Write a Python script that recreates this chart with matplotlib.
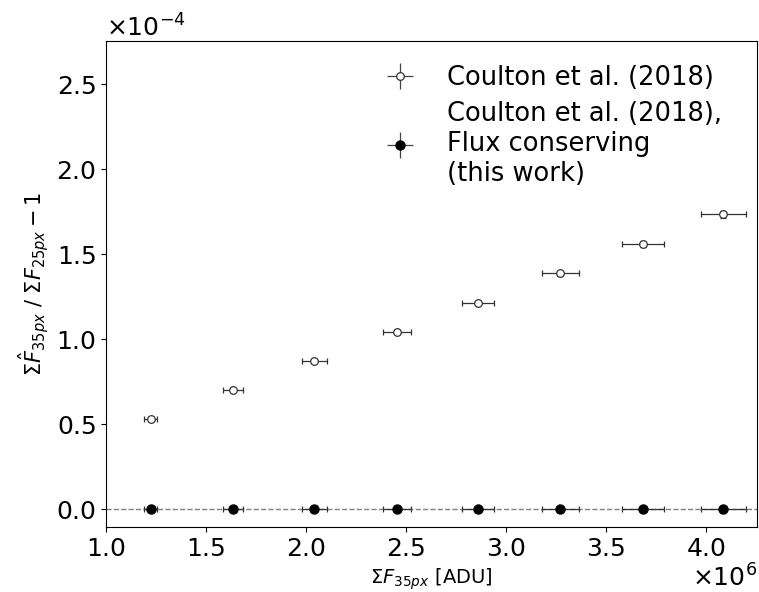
import matplotlib
matplotlib.use("Agg")
import matplotlib.pyplot as plt
from matplotlib.lines import Line2D
import numpy as np

# summed flux in the 35 px aperture [ADU]
flux = np.array([1.2235, 1.633, 2.042, 2.453, 2.862, 3.272, 3.683, 4.087]) * 1e6
flux_err = np.array([0.033, 0.050, 0.061, 0.070, 0.080, 0.093, 0.105, 0.114]) * 1e6

# fractional flux ratio minus one
ratio_coulton = np.array([0.529, 0.702, 0.874, 1.041, 1.215, 1.388, 1.561, 1.736]) * 1e-4
ratio_coulton_err = np.array([0.010, 0.010, 0.010, 0.012, 0.013, 0.015, 0.016, 0.020]) * 1e-4
ratio_conserving = np.array([0.0, 0.0, 0.0, 0.0, 0.0, 0.0, 0.0, 0.0]) * 1e-4
ratio_conserving_err = np.array([0.010, 0.010, 0.010, 0.012, 0.013, 0.015, 0.016, 0.020]) * 1e-4

labels = ['Coulton et al. (2018)',
          'Coulton et al. (2018),\nFlux conserving\n(this work)']

fig = plt.figure(figsize=(7.59, 5.92), dpi=100)
ax = fig.add_axes([0.1397, 0.1098, 0.8577, 0.8209])

ax.axhline(0, color='gray', ls='--', lw=1, zorder=1)

ax.errorbar(flux, ratio_coulton, xerr=flux_err, yerr=ratio_coulton_err,
            fmt='o', ms=5.5, mfc='white', mec='#333333', mew=0.9,
            ecolor='#333333', elinewidth=0.9, capsize=2.5, capthick=0.9, zorder=3)
ax.errorbar(flux, ratio_conserving, xerr=flux_err, yerr=ratio_conserving_err,
            fmt='o', ms=6.5, mfc='black', mec='black',
            ecolor='#333333', elinewidth=0.9, capsize=2.5, capthick=0.9, zorder=3)

ax.set_xlim(1.0e6, 4.255e6)
ax.set_ylim(-0.104e-4, 2.755e-4)
ax.set_xticks(np.arange(1.0, 4.01, 0.5) * 1e6)
ax.set_yticks(np.arange(0.0, 2.51, 0.5) * 1e-4)
ax.ticklabel_format(style='sci', axis='both', scilimits=(0, 0), useMathText=True)
ax.tick_params(labelsize=18)
ax.xaxis.get_offset_text().set_fontsize(18)
ax.yaxis.get_offset_text().set_fontsize(18)

ax.set_xlabel(r'$\Sigma F_{35px}$ [ADU]', fontsize=14)
ax.set_ylabel(r'$\Sigma\hat{F}_{35px}$ / $\Sigma F_{25px} - 1$', fontsize=15)

# legend keys: marker with a plain cross for the error bars
cross = dict(marker='+', ms=19, mew=0.9, color='#444444', ls='none')
h_open = (Line2D([], [], **cross),
          Line2D([], [], marker='o', ms=5.5, mfc='white', mec='#333333', mew=0.9, ls='none'))
h_fill = (Line2D([], [], **cross),
          Line2D([], [], marker='o', ms=6.5, mfc='black', mec='black', ls='none'))
ax.legend([h_open, h_fill], labels, loc='upper right', frameon=False, fontsize=18.5,
          handletextpad=0.85, labelspacing=0.4, borderaxespad=0.3,
          bbox_to_anchor=(1 - 17 / 651, 1 - 6 / 486))

fig.savefig('out.png', dpi=100)
